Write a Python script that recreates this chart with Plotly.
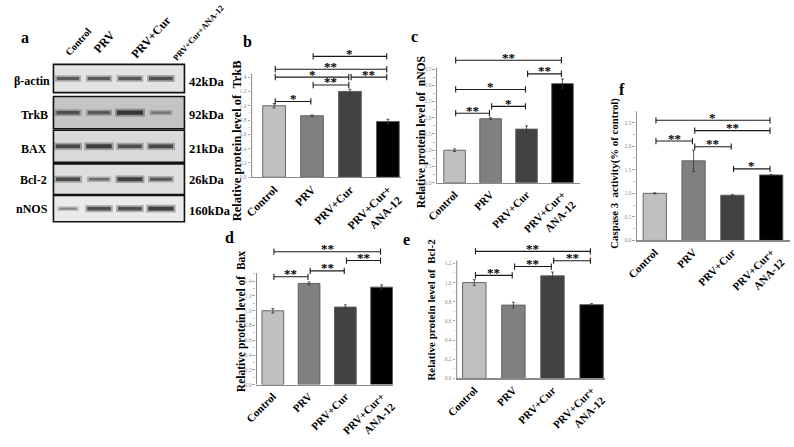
import plotly.graph_objects as go

W, H = 794, 447
SERIF = "Liberation Serif, Times New Roman, serif"

# ---------------- data ----------------
groups = ["Control", "PRV", "PRV+Cur", "PRV+Cur+ANA-12"]
group_ticks = ["Control", "PRV", "PRV+Cur", "PRV+Cur+<br>ANA-12"]

trkb_mean = [1.00, 0.86, 1.20, 0.78]
trkb_err = [0.03, 0.01, 0.03, 0.03]
nnos_mean = [1.00, 1.97, 1.65, 3.05]
nnos_err = [0.04, 0.03, 0.10, 0.14]
bax_mean = [1.00, 1.37, 1.05, 1.32]
bax_err = [0.03, 0.02, 0.03, 0.03]
bcl2_mean = [1.00, 0.765, 1.07, 0.77]
bcl2_err = [0.03, 0.03, 0.04, 0.01]
casp3_mean = [1.00, 1.69, 0.96, 1.39]
casp3_err = [0.01, 0.23, 0.01, 0.01]

# significance comparisons (group i, group j, mark)
trkb_sig = [(0, 1, "*"), (1, 2, "**"), (0, 2, "*"), (2, 3, "**"), (0, 3, "**"), (1, 3, "*")]
nnos_sig = [(0, 1, "**"), (1, 2, "*"), (0, 2, "*"), (2, 3, "**"), (0, 3, "**")]
bax_sig = [(0, 1, "**"), (1, 2, "**"), (2, 3, "**"), (0, 3, "**")]
bcl2_sig = [(0, 1, "**"), (1, 2, "**"), (2, 3, "**"), (0, 3, "**")]
casp3_sig = [(0, 3, "*"), (1, 3, "**"), (0, 1, "**"), (1, 2, "**"), (2, 3, "*")]

# western blot (relative band darkness per lane)
blot_proteins = ["β-actin", "TrkB", "BAX", "Bcl-2", "nNOS"]
blot_kda = ["42kDa", "92kDa", "21kDa", "26kDa", "160kDa"]
band_actin = [0.70, 0.70, 0.72, 0.80]
band_trkb = [0.75, 0.66, 1.00, 0.40]
band_bax = [0.85, 0.95, 0.80, 0.85]
band_bcl2 = [0.82, 0.50, 0.92, 0.66]
band_nnos = [0.30, 0.80, 0.80, 0.95]
blot_bands = [band_actin, band_trkb, band_bax, band_bcl2, band_nnos]
lane_labels = ["Control", "PRV", "PRV+Cur", "PRV+Cur+ANA-12"]

# ---------------- style / layout ----------------
bar_colors = ["#c0c0c0", "#808080", "#424242", "#000000"]
AXIS_GRAY = "#8a8a8a"

panels = [
    dict(letter="b", title="Relative protein level of\u00a0\u00a0TrkB", mean=trkb_mean, err=trkb_err,
         sig=trkb_sig, sig_h=[1.06, 1.29, 1.40, 1.40, 1.51, 1.69],
         yticks=[0, 0.2, 0.4, 0.6, 0.8, 1.0, 1.2, 1.4],
         x_px=(244, 397, 267.5, 38.7), y_px=(181.7, 73.3, 1.80), axis_top=1.45,
         title_px=(230, 144.5, 12.5), letter_px=(240, 43), tick_size=11.5),
    dict(letter="c", title="Relative protein level of\u00a0\u00a0nNOS", mean=nnos_mean, err=nnos_err,
         sig=nnos_sig, sig_h=[2.14, 2.35, 2.87, 3.35, 3.77],
         yticks=[0, 0.5, 1.0, 1.5, 2.0, 2.5, 3.0, 3.5],
         x_px=(432.7, 580, 451.7, 36.7), y_px=(187.3, 33.3, 4.0), axis_top=3.55,
         title_px=(418, 136, 11.5), letter_px=(411, 37), tick_size=11),
    dict(letter="f", title="Caspase 3\u00a0\u00a0activity(% of control)", mean=casp3_mean, err=casp3_err,
         sig=casp3_sig, sig_h=[2.55, 2.33, 2.11, 1.99, 1.52],
         yticks=[0, 0.5, 1.0, 1.5, 2.0, 2.5],
         x_px=(636.7, 794, 656, 39.6), y_px=(246.5, 48.3, 2.76), axis_top=2.74,
         title_px=(615, 177.5, 10.8), letter_px=(623, 92), tick_size=11),
    dict(letter="d", title="Relative protein level of\u00a0\u00a0Bax", mean=bax_mean, err=bax_err,
         sig=bax_sig, sig_h=[1.46, 1.54, 1.68, 1.80],
         yticks=[0, 0.2, 0.4, 0.6, 0.8, 1.0, 1.2, 1.4],
         x_px=(249, 389, 266.2, 37), y_px=(394.3, 75.7, 1.90), axis_top=1.51,
         title_px=(235, 329, 11.5), letter_px=(222, 244), tick_size=11),
    dict(letter="e", title="Relative protein level of\u00a0\u00a0Bcl-2", mean=bcl2_mean, err=bcl2_err,
         sig=bcl2_sig, sig_h=[1.075, 1.167, 1.228, 1.325],
         yticks=[0, 0.2, 0.4, 0.6, 0.8, 1.0, 1.2],
         x_px=(453.3, 605, 471.8, 39.9), y_px=(388, 98.3, 1.38), axis_top=1.23,
         title_px=(428, 317, 11), letter_px=(403, 246), tick_size=11),
]

fig = go.Figure()
layout = {}
annotations = []
shapes = []


def ax_names(n):
    return ("x" if n == 1 else f"x{n}"), ("y" if n == 1 else f"y{n}")


def bold_font(size, color="#000"):
    return dict(family=SERIF, size=size, color=color, weight="bold")


for n, P in enumerate(panels, start=1):
    xa, ya = ax_names(n)
    L, R, c0, s = P["x_px"]
    xr = [(L - c0) / s, (R - c0) / s]
    y0px, ppu, ytop = P["y_px"]
    dom_y = [1 - y0px / H, 1 - (y0px - ytop * ppu) / H]

    fig.add_trace(go.Bar(
        x=list(range(len(groups))), y=P["mean"], width=0.6,
        marker=dict(color=bar_colors, line=dict(color="#5a5a5a", width=0.9)),
        error_y=dict(type="data", array=P["err"], color="#333", thickness=0.8, width=1.5),
        xaxis=xa, yaxis=ya, showlegend=False, hoverinfo="skip"))

    for (i, j, lab), h in zip(P["sig"], P["sig_h"]):
        x1, x2 = i + 0.03, j - 0.03
        fig.add_trace(go.Scatter(
            x=[x1, x2], y=[h, h], mode="lines+markers",
            line=dict(color="#1a1a1a", width=1.1),
            marker=dict(symbol="line-ns", size=4.5, color="#1a1a1a",
                        line=dict(color="#1a1a1a", width=1.1)),
            xaxis=xa, yaxis=ya, showlegend=False, hoverinfo="skip"))
        annotations.append(dict(x=(x1 + x2) / 2, y=h, xref=xa, yref=ya, text=lab, showarrow=False,
                                yanchor="bottom", yshift=-6.5,
                                font=dict(family=SERIF, size=13, color="#000", weight="bold")))

    minor_vals = []
    step = P["yticks"][1] - P["yticks"][0]
    for t in P["yticks"]:
        if t + step / 2 <= P["axis_top"]:
            minor_vals.append(t + step / 2)

    layout["xaxis" if n == 1 else f"xaxis{n}"] = dict(
        domain=[L / W, min(R / W, 1.0)], range=xr, anchor=ya,
        showline=True, linecolor=AXIS_GRAY, linewidth=1.2, ticks="",
        tickmode="array", tickvals=list(range(len(groups))), ticktext=group_ticks,
        tickangle=-45, tickfont=bold_font(P["tick_size"]),
        showgrid=False, zeroline=False, fixedrange=True)
    layout["yaxis" if n == 1 else f"yaxis{n}"] = dict(
        domain=dom_y, range=[0, ytop], anchor=xa, showline=False,
        tickmode="array", tickvals=P["yticks"], ticktext=[f"{t:.1f}" for t in P["yticks"]],
        ticks="outside", ticklen=2.5, tickwidth=0.8, tickcolor=AXIS_GRAY,
        minor=dict(tickmode="array", tickvals=minor_vals, ticks="outside", ticklen=1.5,
                   tickwidth=0.6, tickcolor=AXIS_GRAY),
        tickfont=dict(family=SERIF, size=5.5, color="#8c8c8c"),
        showgrid=False, zeroline=False, fixedrange=True)

    # y-axis line only up to the top of the scale
    shapes.append(dict(type="line", xref=xa, yref=ya, x0=xr[0] + 0.012, x1=xr[0] + 0.012,
                       y0=0, y1=P["axis_top"], line=dict(color=AXIS_GRAY, width=1.2)))

    tx, ty, tsize = P["title_px"]
    annotations.append(dict(x=tx / W, y=1 - ty / H, xref="paper", yref="paper", text=P["title"],
                            textangle=-90, showarrow=False, xanchor="center", yanchor="middle",
                            font=bold_font(tsize)))
    lx, ly = P["letter_px"]
    annotations.append(dict(x=lx / W, y=1 - ly / H, xref="paper", yref="paper", text=P["letter"],
                            showarrow=False, xanchor="center", yanchor="middle", font=bold_font(16)))

# ---------------- panel a: western blot ----------------
blot_x_px = (42.3, 176)
blot_rows_px = [(66, 95), (99, 132), (133.5, 166.5), (168, 199.5), (200.5, 227.3)]
blot_bg = ["#e3e3e3", "#c4c4c4", "#d9d9d9", "#dedede", "#eaeaea"]
row_label_px = [(20, 83), (23, 118), (22, 153), (22, 185), (20, 214)]
kda_px = [(199, 84), (199, 118), (199, 153), (199, 185), (202, 216)]

for r, bands in enumerate(blot_bands):
    n = 6 + r
    xa, ya = ax_names(n)
    top, bot = blot_rows_px[r]
    layout[f"xaxis{n}"] = dict(domain=[blot_x_px[0] / W, blot_x_px[1] / W], range=[0.53, 4.76],
                               anchor=ya, visible=False, fixedrange=True)
    layout[f"yaxis{n}"] = dict(domain=[1 - bot / H, 1 - top / H], range=[-1, 1],
                               anchor=xa, visible=False, fixedrange=True)
    shapes.append(dict(type="rect", xref=f"{xa} domain", yref=f"{ya} domain", x0=0, x1=1, y0=0, y1=1,
                       fillcolor=blot_bg[r], line=dict(color="#111", width=1.6), layer="below"))
    lanes = list(range(1, len(bands) + 1))
    # soft halo
    fig.add_trace(go.Scatter(
        x=lanes, y=[0] * len(bands), mode="markers",
        marker=dict(symbol="line-ew", size=[(18 + 12 * b) / 1.4 for b in bands],
                    line=dict(width=[3 + 5 * b for b in bands],
                              color=[f"rgba(60,60,60,{0.25 + 0.3 * b:.2f})" for b in bands])),
        xaxis=xa, yaxis=ya, showlegend=False, hoverinfo="skip"))
    # dense core
    fig.add_trace(go.Scatter(
        x=lanes, y=[0] * len(bands), mode="markers",
        marker=dict(symbol="line-ew", size=[(14 + 12 * b) / 1.4 for b in bands],
                    line=dict(width=[1 + 3.2 * b for b in bands],
                              color=[f"rgb({int(150 - 135 * b)},{int(150 - 135 * b)},{int(150 - 135 * b)})"
                                     for b in bands])),
        xaxis=xa, yaxis=ya, showlegend=False, hoverinfo="skip"))

    lx, ly = row_label_px[r]
    annotations.append(dict(x=lx / W, y=1 - ly / H, xref="paper", yref="paper", text=blot_proteins[r],
                            showarrow=False, xanchor="center", yanchor="middle", font=bold_font(12)))
    kx, ky = kda_px[r]
    annotations.append(dict(x=kx / W, y=1 - ky / H, xref="paper", yref="paper", text=blot_kda[r],
                            showarrow=False, xanchor="center", yanchor="middle", font=bold_font(12.5)))

lane_label_px = [(68, 43, 10), (94, 43, 12), (142, 38, 12), (190, 34, 8.5)]
for lab, (lx, ly, sz) in zip(lane_labels, lane_label_px):
    annotations.append(dict(x=lx / W, y=1 - ly / H, xref="paper", yref="paper", text=lab,
                            textangle=-48, showarrow=False, xanchor="center", yanchor="middle",
                            font=bold_font(sz)))
annotations.append(dict(x=13 / W, y=1 - 38 / H, xref="paper", yref="paper", text="a",
                        showarrow=False, xanchor="center", yanchor="middle", font=bold_font(16)))

fig.update_layout(
    width=W, height=H, autosize=False,
    margin=dict(l=0, r=0, t=0, b=0),
    paper_bgcolor="white", plot_bgcolor="rgba(0,0,0,0)",
    showlegend=False, bargap=0.4,
    annotations=annotations, shapes=shapes,
    **layout)

fig.write_html(
    "out.html", include_plotlyjs=True,
    config={"displayModeBar": False, "staticPlot": True},
    post_script="document.body.style.margin='0';document.body.style.padding='0';"
                "document.documentElement.style.overflow='hidden';document.body.style.overflow='hidden';")
